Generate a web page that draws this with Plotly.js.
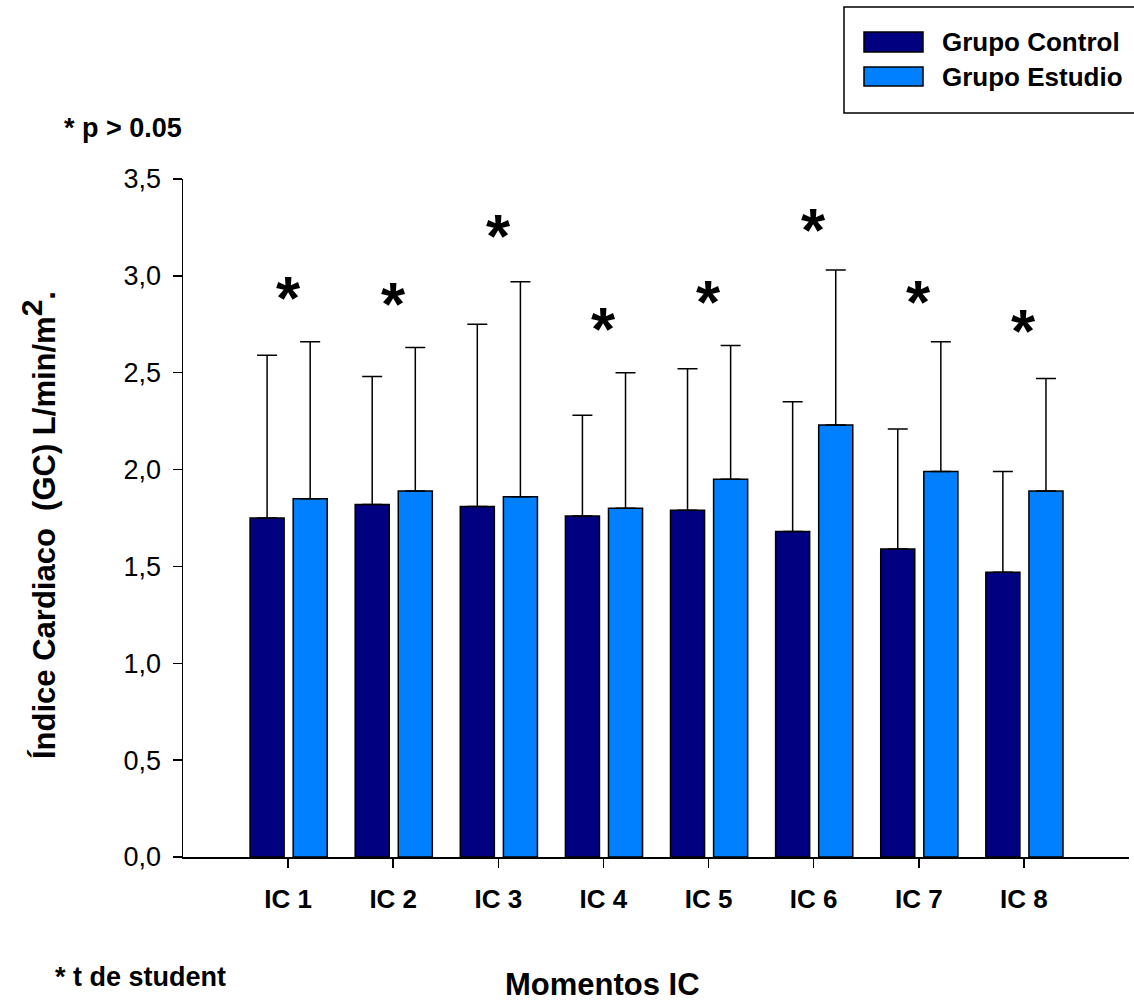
<!DOCTYPE html>
<html>
<head>
<meta charset="utf-8">
<script src="https://cdn.plot.ly/plotly-3.0.1.min.js"></script>
<style>html,body{margin:0;padding:0;background:#fff;}#chart{width:1134px;height:1005px;}</style>
</head>
<body>
<div id="chart"></div>
<script>
// ---- data ----
const categories = ["IC 1", "IC 2", "IC 3", "IC 4", "IC 5", "IC 6", "IC 7", "IC 8"];
const controlValues = [1.75, 1.82, 1.81, 1.76, 1.79, 1.68, 1.59, 1.47];
const controlErrors = [0.84, 0.66, 0.94, 0.52, 0.73, 0.67, 0.62, 0.52];
const estudioValues = [1.85, 1.89, 1.86, 1.80, 1.95, 2.23, 1.99, 1.89];
const estudioErrors = [0.81, 0.74, 1.11, 0.70, 0.69, 0.80, 0.67, 0.58];
const starLevels = [2.93, 2.90, 3.25, 2.77, 2.91, 3.28, 2.91, 2.76];
const yTicks = [0, 0.5, 1.0, 1.5, 2.0, 2.5, 3.0, 3.5];

const FONT = "Liberation Sans, Arial, sans-serif";
const xIdx = categories.map((c, i) => i);

// plot-area pixel geometry
const W = 1134, H = 1005;
const L = 183, R = 5, T = 179, B = 148;
const pw = W - L - R, ph = H - T - B;
const px = x => (x - L) / pw;
const py = y => (H - B - y) / ph;

const traces = [
  {
    type: "bar", name: "Grupo Control", x: xIdx, y: controlValues,
    width: 0.324, offset: -0.362,
    marker: {color: "#000080", line: {color: "#000000", width: 1.5}},
    error_y: {type: "data", array: controlErrors, arrayminus: controlErrors.map(() => 0), symmetric: false,
              color: "#000000", thickness: 1.5, width: 10},
    showlegend: false, hoverinfo: "skip"
  },
  {
    type: "bar", name: "Grupo Estudio", x: xIdx, y: estudioValues,
    width: 0.324, offset: 0.048,
    marker: {color: "#0080FF", line: {color: "#000000", width: 1.5}},
    error_y: {type: "data", array: estudioErrors, arrayminus: estudioErrors.map(() => 0), symmetric: false,
              color: "#000000", thickness: 1.5, width: 10},
    showlegend: false, hoverinfo: "skip"
  }
];

const annotations = [];
starLevels.forEach((v, i) => {
  annotations.push({x: i, y: v, xref: "x", yref: "y", text: "<b>*</b>", showarrow: false,
    xanchor: "center", yanchor: "middle", yshift: -8,
    font: {family: FONT, size: 62, color: "#000"}});
});
annotations.push(
  {xref: "paper", yref: "paper", x: px(62), y: py(128), xanchor: "left", yanchor: "middle",
   text: "<b>* p > 0.05</b>", showarrow: false, font: {family: FONT, size: 27, color: "#000"}},
  {xref: "paper", yref: "paper", x: px(53), y: py(977), xanchor: "left", yanchor: "middle",
   text: "<b>* t de student</b>", showarrow: false, font: {family: FONT, size: 27, color: "#000"}},
  {xref: "paper", yref: "paper", x: px(602), y: py(984), xanchor: "center", yanchor: "middle",
   text: "<b>Momentos IC</b>", showarrow: false, font: {family: FONT, size: 31, color: "#000"}},
  {xref: "paper", yref: "paper", x: px(38), y: py(525), xanchor: "center", yanchor: "middle", textangle: -90,
   text: "<b>Índice Cardiaco  (GC) L/min/m<sup><span style=\"font-size:30px\">2</span></sup>.</b>", showarrow: false,
   font: {family: FONT, size: 31, color: "#000"}},
  {xref: "paper", yref: "paper", x: px(940), y: py(42), xanchor: "left", yanchor: "middle",
   text: "<b>Grupo Control</b>", showarrow: false, font: {family: FONT, size: 26, color: "#000"}},
  {xref: "paper", yref: "paper", x: px(940), y: py(77), xanchor: "left", yanchor: "middle",
   text: "<b>Grupo Estudio</b>", showarrow: false, font: {family: FONT, size: 26, color: "#000"}}
);

const shapes = [
  {type: "rect", xref: "paper", yref: "paper", x0: px(844), x1: px(1140), y0: py(7), y1: py(113),
   line: {color: "#000", width: 1.5}, fillcolor: "rgba(0,0,0,0)"},
  {type: "rect", xref: "paper", yref: "paper", x0: px(864), x1: px(923), y0: py(32), y1: py(52),
   line: {color: "#000", width: 1.5}, fillcolor: "#000080"},
  {type: "rect", xref: "paper", yref: "paper", x0: px(864), x1: px(923), y0: py(67), y1: py(86),
   line: {color: "#000", width: 1.5}, fillcolor: "#0080FF"}
];

const layout = {
  width: W, height: H,
  margin: {l: L, r: R, t: T, b: B, pad: 0},
  paper_bgcolor: "#fff", plot_bgcolor: "#fff",
  separators: ", ",
  showlegend: false,
  font: {family: FONT, color: "#000"},
  xaxis: {
    range: [-1, 8], tickmode: "array", tickvals: xIdx, ticktext: categories,
    showgrid: false, zeroline: false, showline: true, linecolor: "#000", linewidth: 1.5,
    ticks: "outside", ticklen: 9, tickwidth: 1.5, tickcolor: "#000",
    ticklabelstandoff: 9,
    tickfont: {family: FONT, size: 26, color: "#000", weight: "bold"}
  },
  yaxis: {
    range: [0, 3.5], tickmode: "array", tickvals: yTicks, tickformat: ".1f",
    showgrid: false, zeroline: false, showline: true, linecolor: "#000", linewidth: 1.5,
    ticks: "outside", ticklen: 9, tickwidth: 1.5, tickcolor: "#000",
    ticklabelstandoff: 6,
    tickfont: {family: FONT, size: 27, color: "#000"}
  },
  annotations: annotations,
  shapes: shapes
};

Plotly.newPlot("chart", traces, layout, {displayModeBar: false, staticPlot: true});
</script>
</body>
</html>
